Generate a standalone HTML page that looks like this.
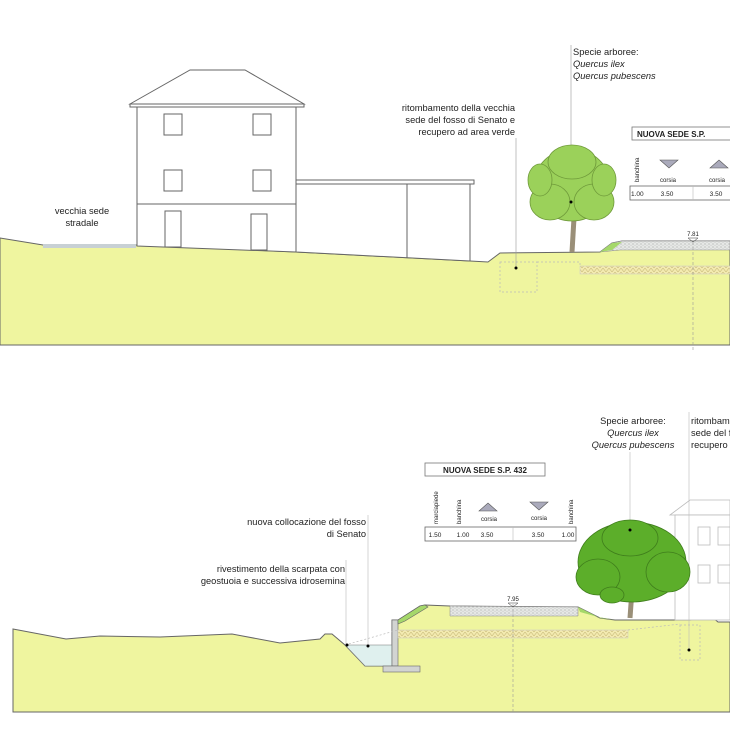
<!DOCTYPE html>
<html><head><meta charset="utf-8"><style>
html,body{margin:0;padding:0;background:#fff;width:730px;height:730px;overflow:hidden}
svg text{font-family:"Liberation Sans",sans-serif;fill:#222}
</style></head><body>
<svg width="730" height="730" viewBox="0 0 730 730" xmlns="http://www.w3.org/2000/svg">
<defs>
<pattern id="hatch" width="6" height="4" patternUnits="userSpaceOnUse"><rect width="6" height="4" fill="#f3eab0"/><path d="M0 4L3 0L6 4" stroke="#c9bb7a" stroke-width="0.6" fill="none"/></pattern>
<pattern id="grav" width="4" height="3" patternUnits="userSpaceOnUse"><rect width="4" height="3" fill="#e6e8e6"/><circle cx="1" cy="1" r="0.6" fill="#aaa"/><circle cx="3" cy="2.2" r="0.5" fill="#bbb"/></pattern>
</defs>

<!-- ========== TOP SECTION ========== -->
<polygon points="0,238 43,245 136,245 296,252 470,261 488,262 500,253 600,252 612,243 622,241 730,241 730,345 0,345" fill="#eff59f" stroke="#666" stroke-width="1"/>
<rect x="43" y="244" width="93" height="4" fill="#c8d0d4"/>
<polygon points="600,252 612,243 622,241 730,241 730,250 620,250" fill="url(#grav)" stroke="#888" stroke-width="0.5"/>
<polygon points="600,252 612,243 622,242 612,250" fill="#a5d86a"/>
<rect x="580" y="266" width="150" height="8" fill="url(#hatch)" stroke="#ccc" stroke-width="0.5"/>
<rect x="500" y="262" width="37" height="30" fill="none" stroke="#bbb" stroke-dasharray="2,2" stroke-width="0.7"/>
<path d="M537,262 L580,262 L580,266" fill="none" stroke="#bbb" stroke-dasharray="2,2" stroke-width="0.7"/>
<g fill="#fff" stroke="#666" stroke-width="1">
<polygon points="130,104 190,70 245,70 304,104"/>
<rect x="130" y="104" width="174" height="3"/>
<polygon points="137,107 296,107 296,252 137,246"/>
<line x1="137" y1="204" x2="296" y2="204"/>
<rect x="164" y="114" width="18" height="21"/><rect x="253" y="114" width="18" height="21"/>
<rect x="164" y="170" width="18" height="21"/><rect x="253" y="170" width="18" height="21"/>
<rect x="165" y="211" width="16" height="36"/><rect x="251" y="214" width="16" height="36"/>
<rect x="296" y="180" width="178" height="4"/>
<polygon points="296,184 470,184 470,261 296,252"/>
<line x1="407" y1="184" x2="407" y2="258"/>
</g>
<text x="82" y="214" font-size="9.3" text-anchor="middle">vecchia sede</text>
<text x="82" y="226" font-size="9.3" text-anchor="middle">stradale</text>
<text x="515" y="111" font-size="9.3" text-anchor="end">ritombamento della vecchia</text>
<text x="515" y="123" font-size="9.3" text-anchor="end">sede del fosso di Senato e</text>
<text x="515" y="135" font-size="9.3" text-anchor="end">recupero ad area verde</text>
<line x1="516" y1="138" x2="516" y2="268" stroke="#999" stroke-width="0.6"/>
<circle cx="516" cy="268" r="1.5" fill="#000"/>
<text x="573" y="55" font-size="9.3">Specie arboree:</text>
<text x="573" y="67" font-size="9.3" font-style="italic">Quercus ilex</text>
<text x="573" y="79" font-size="9.3" font-style="italic">Quercus pubescens</text>
<line x1="571" y1="45" x2="571" y2="200" stroke="#999" stroke-width="0.6"/>
<path d="M572,252 L574,218 L566,205 M575,218 L582,204" stroke="#9a8f78" stroke-width="5" fill="none"/>
<g fill="#9bd15a" stroke="#6f9a3a" stroke-width="0.8">
<ellipse cx="572" cy="185" rx="38" ry="36"/>
<ellipse cx="550" cy="202" rx="20" ry="18"/><ellipse cx="594" cy="202" rx="20" ry="18"/>
<ellipse cx="540" cy="180" rx="12" ry="16"/><ellipse cx="604" cy="180" rx="12" ry="16"/>
<ellipse cx="572" cy="162" rx="24" ry="17"/>
</g>
<circle cx="571" cy="202" r="1.5" fill="#000"/>
<rect x="632" y="127" width="100" height="13" fill="#fff" stroke="#777" stroke-width="0.8"/>
<text x="637" y="137" font-size="8" font-weight="bold">NUOVA SEDE S.P.</text>
<rect x="630" y="186" width="102" height="14" fill="#fff" stroke="#666" stroke-width="0.8"/>
<line x1="693" y1="186" x2="693" y2="200" stroke="#bbb" stroke-width="0.6"/>
<text x="0" y="0" font-size="6" transform="translate(639,182) rotate(-90)">banchina</text>
<polygon points="660,160 678,160 669,168" fill="#aab" stroke="#555" stroke-width="0.6"/>
<polygon points="710,168 728,168 719,160" fill="#aab" stroke="#555" stroke-width="0.6"/>
<text x="668" y="182" font-size="6" text-anchor="middle">corsia</text>
<text x="717" y="182" font-size="6" text-anchor="middle">corsia</text>
<text x="631" y="196" font-size="6.5">1.00</text>
<text x="667" y="196" font-size="6.5" text-anchor="middle">3.50</text>
<text x="716" y="196" font-size="6.5" text-anchor="middle">3.50</text>
<text x="693" y="236" font-size="6" text-anchor="middle">7.81</text>
<polygon points="688,238 698,238 693,242" fill="none" stroke="#333" stroke-width="0.5"/>
<line x1="693" y1="242" x2="693" y2="350" stroke="#999" stroke-width="0.6" stroke-dasharray="3,2"/>

<!-- ========== BOTTOM SECTION ========== -->
<polygon points="13,629 66,639 100,636 160,637 232,634 280,643 320,639 325,634 332,634 345,645 365,666 392,666 392,620 398,620 420,606 425,605 450,606 578,607 600,618 615,620 690,620 700,617 712,617 718,622 730,622 730,712 13,712" fill="#eff59f" stroke="#666" stroke-width="1"/>
<polygon points="345,645 392,645 392,666 365,666" fill="#dff0ee" stroke="#777" stroke-width="0.6"/>
<rect x="392" y="620" width="6" height="46" fill="#d2d4d2" stroke="#666" stroke-width="0.6"/>
<rect x="383" y="666" width="37" height="6" fill="#d2d4d2" stroke="#666" stroke-width="0.6"/>
<polygon points="398,620 420,606 425,605 428,607 405,621 398,624" fill="#a5d86a" stroke="#666" stroke-width="0.6"/>
<polygon points="450,606 578,607 578,616 450,616" fill="url(#grav)" stroke="#888" stroke-width="0.5"/>
<polygon points="578,607 600,618 615,620 598,617 580,612" fill="#a5d86a"/>
<rect x="398" y="630" width="230" height="8" fill="url(#hatch)" stroke="#ccc" stroke-width="0.5"/>
<path d="M345,645 L398,630 M628,630 L680,624" stroke="#bbb" stroke-dasharray="2,2" stroke-width="0.7" fill="none"/>
<line x1="513" y1="604" x2="513" y2="712" stroke="#999" stroke-width="0.6" stroke-dasharray="3,2"/>
<text x="513" y="601" font-size="6" text-anchor="middle">7.95</text>
<polygon points="508,603 518,603 513,607" fill="none" stroke="#333" stroke-width="0.5"/>
<text x="366" y="525" font-size="9.3" text-anchor="end">nuova collocazione del fosso</text>
<text x="366" y="537" font-size="9.3" text-anchor="end">di Senato</text>
<text x="345" y="572" font-size="9.3" text-anchor="end">rivestimento della scarpata con</text>
<text x="345" y="584" font-size="9.3" text-anchor="end">geostuoia e successiva idrosemina</text>
<line x1="368" y1="515" x2="368" y2="646" stroke="#bbb" stroke-width="0.6"/>
<line x1="346" y1="560" x2="346" y2="645" stroke="#bbb" stroke-width="0.6"/>
<circle cx="347" cy="645" r="1.5" fill="#000"/><circle cx="368" cy="646" r="1.5" fill="#000"/>
<rect x="425" y="463" width="120" height="13" fill="#fff" stroke="#777" stroke-width="0.8"/>
<text x="485" y="473" font-size="8" font-weight="bold" text-anchor="middle">NUOVA SEDE S.P. 432</text>
<rect x="425" y="527" width="151" height="14" fill="#fff" stroke="#666" stroke-width="0.8"/>
<line x1="513" y1="527" x2="513" y2="541" stroke="#bbb" stroke-width="0.6"/>
<text font-size="6" transform="translate(438,524) rotate(-90)">marciapiede</text>
<text font-size="6" transform="translate(461,524) rotate(-90)">banchina</text>
<text font-size="6" transform="translate(573,524) rotate(-90)">banchina</text>
<polygon points="479,511 497,511 488,503" fill="#aab" stroke="#555" stroke-width="0.6"/>
<polygon points="530,502 548,502 539,510" fill="#aab" stroke="#555" stroke-width="0.6"/>
<text x="489" y="521" font-size="6" text-anchor="middle">corsia</text>
<text x="539" y="520" font-size="6" text-anchor="middle">corsia</text>
<text x="435" y="537" font-size="6.5" text-anchor="middle">1.50</text>
<text x="463" y="537" font-size="6.5" text-anchor="middle">1.00</text>
<text x="487" y="537" font-size="6.5" text-anchor="middle">3.50</text>
<text x="538" y="537" font-size="6.5" text-anchor="middle">3.50</text>
<text x="568" y="537" font-size="6.5" text-anchor="middle">1.00</text>
<g fill="#fff" stroke="#bbb" stroke-width="0.8">
<polygon points="670,515 690,500 730,500 730,515"/>
<rect x="675" y="515" width="55" height="105"/>
<rect x="698" y="527" width="12" height="18"/><rect x="718" y="527" width="12" height="18"/>
<rect x="698" y="565" width="12" height="18"/><rect x="718" y="565" width="12" height="18"/>
</g>
<rect x="680" y="625" width="20" height="35" fill="none" stroke="#bbb" stroke-dasharray="2,2" stroke-width="0.7"/>
<line x1="689" y1="412" x2="689" y2="650" stroke="#bbb" stroke-width="0.6"/>
<circle cx="689" cy="650" r="1.5" fill="#000"/>
<text x="691" y="424" font-size="9.3">ritombamento</text>
<text x="691" y="436" font-size="9.3">sede del fosso</text>
<text x="691" y="448" font-size="9.3">recupero ad</text>
<text x="633" y="424" font-size="9.3" text-anchor="middle">Specie arboree:</text>
<text x="633" y="436" font-size="9.3" text-anchor="middle" font-style="italic">Quercus ilex</text>
<text x="633" y="448" font-size="9.3" text-anchor="middle" font-style="italic">Quercus pubescens</text>
<line x1="630" y1="452" x2="630" y2="530" stroke="#bbb" stroke-width="0.6"/>
<path d="M630,618 L632,590 L615,570 M633,590 L645,572" stroke="#9a8f78" stroke-width="5" fill="none"/>
<g fill="#5cae2a" stroke="#3f7d1c" stroke-width="0.8">
<ellipse cx="632" cy="562" rx="54" ry="40"/>
<ellipse cx="598" cy="577" rx="22" ry="18"/><ellipse cx="668" cy="572" rx="22" ry="20"/>
<ellipse cx="630" cy="538" rx="28" ry="18"/>
<ellipse cx="612" cy="595" rx="12" ry="8"/>
</g>
<circle cx="630" cy="530" r="1.5" fill="#000"/>
</svg>
</body></html>
